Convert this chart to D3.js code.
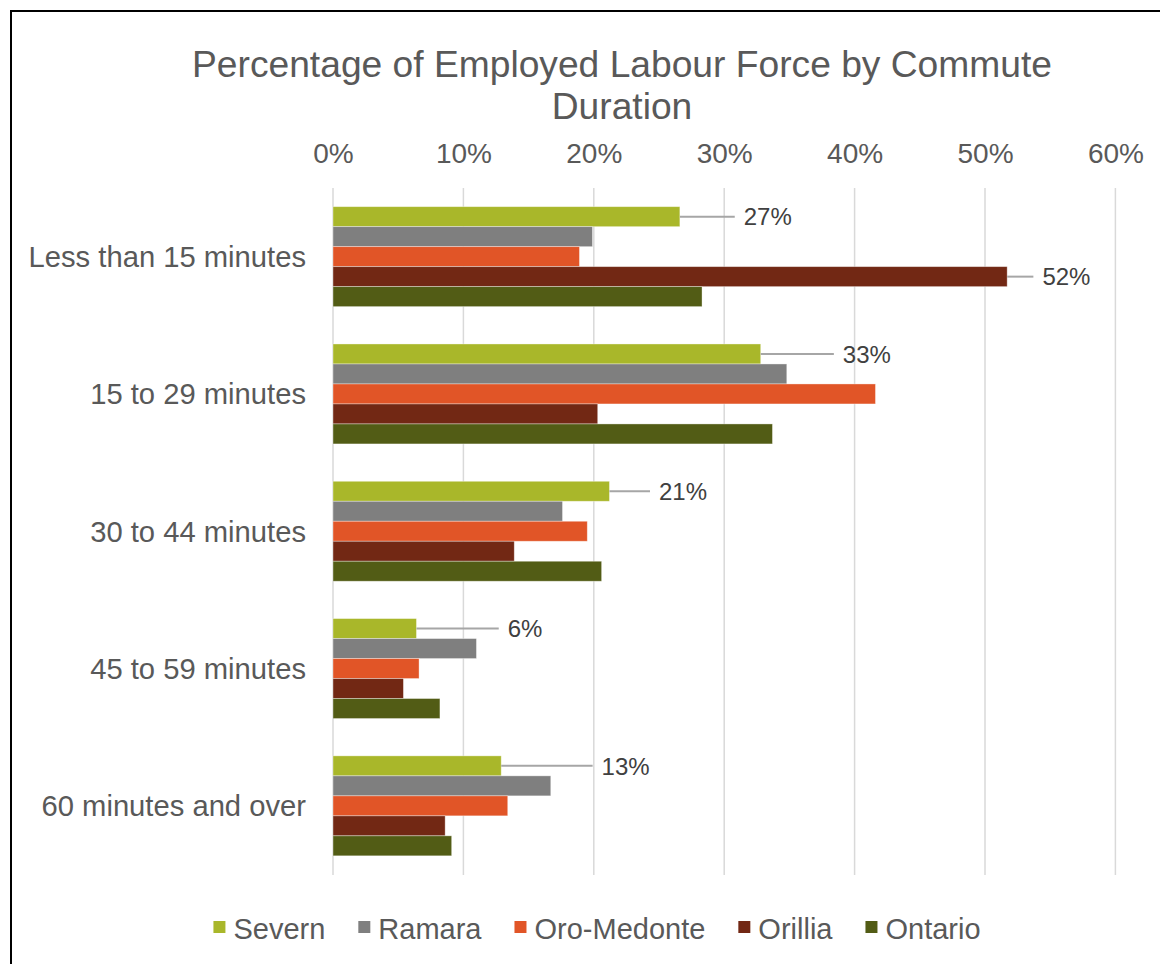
<!DOCTYPE html>
<html>
<head>
<meta charset="utf-8">
<script src="https://cdn.jsdelivr.net/npm/d3@7"></script>
<style>
  html, body { margin: 0; padding: 0; background: #fff; }
  svg { display: block; font-family: "Liberation Sans", Arial, sans-serif; }
</style>
</head>
<body>
<svg id="chart" width="1160" height="964"></svg>
<script>
// Commute duration categories (top to bottom)
const categories = [
  "Less than 15 minutes",
  "15 to 29 minutes",
  "30 to 44 minutes",
  "45 to 59 minutes",
  "60 minutes and over"
];

// Share of employed labour force, per area (fractions)
const severn     = [0.266, 0.328, 0.212, 0.064, 0.129];
const ramara     = [0.199, 0.348, 0.176, 0.110, 0.167];
const oroMedonte = [0.189, 0.416, 0.195, 0.066, 0.134];
const orillia    = [0.517, 0.203, 0.139, 0.054, 0.086];
const ontario    = [0.283, 0.337, 0.206, 0.082, 0.091];

const seriesNames = ["Severn", "Ramara", "Oro-Medonte", "Orillia", "Ontario"];
const seriesValues = [severn, ramara, oroMedonte, orillia, ontario];
const seriesColors = ["#A9B72A", "#7F7F7F", "#E15527", "#722814", "#525C15"];

const tickValues = [0, 0.1, 0.2, 0.3, 0.4, 0.5, 0.6];

// Data callouts: which series/category is labelled, and where the label text sits (in axis units)
const callouts = [
  { series: "Severn",  category: "Less than 15 minutes", at: 0.315 },
  { series: "Orillia", category: "Less than 15 minutes", at: 0.544 },
  { series: "Severn",  category: "15 to 29 minutes",     at: 0.391 },
  { series: "Severn",  category: "30 to 44 minutes",     at: 0.250 },
  { series: "Severn",  category: "45 to 59 minutes",     at: 0.134 },
  { series: "Severn",  category: "60 minutes and over",  at: 0.206 }
];

const svg = d3.select("#chart");
const textColor = "#595959";

// Outer frame
svg.append("rect")
  .attr("x", 11).attr("y", 11)
  .attr("width", 1300).attr("height", 1100)
  .attr("fill", "none").attr("stroke", "#000").attr("stroke-width", 2);

// Title
const title = svg.append("text")
  .attr("text-anchor", "middle")
  .attr("fill", textColor)
  .attr("font-size", 37.2);
title.append("tspan").attr("x", 622).attr("y", 77).text("Percentage of Employed Labour Force by Commute");
title.append("tspan").attr("x", 622).attr("y", 119).text("Duration");

// Scales
const x = d3.scaleLinear().domain([0, 0.6]).range([333, 1115.4]);
const y = d3.scaleBand().domain(categories).range([188, 874.5]).paddingInner(0.272).paddingOuter(0.136);
const ySub = d3.scaleBand().domain(seriesNames).range([0, y.bandwidth()]);

// Gridlines
svg.append("g")
  .selectAll("line")
  .data(tickValues)
  .join("line")
  .attr("x1", d => x(d)).attr("x2", d => x(d))
  .attr("y1", 188).attr("y2", 875)
  .attr("stroke", "#D9D9D9").attr("stroke-width", 1.5);

// Top axis tick labels
const xAxis = d3.axisTop(x).tickValues(tickValues).tickFormat(d3.format(".0%")).tickSize(0).tickPadding(0);
const gx = svg.append("g").attr("transform", "translate(0,163)").call(xAxis);
gx.select(".domain").remove();
gx.selectAll("text")
  .attr("font-family", "Liberation Sans, Arial, sans-serif")
  .attr("font-size", 28)
  .attr("fill", textColor)
  .attr("dy", 0);

// Category axis labels
const yAxis = d3.axisLeft(y).tickSize(0).tickPadding(0);
const gy = svg.append("g").attr("transform", "translate(306,0)").call(yAxis);
gy.select(".domain").remove();
gy.selectAll("text")
  .attr("font-family", "Liberation Sans, Arial, sans-serif")
  .attr("font-size", 29.2)
  .attr("fill", textColor)
  .attr("dy", "0.36em");

// Bars
const groups = svg.append("g")
  .selectAll("g")
  .data(categories)
  .join("g")
  .attr("transform", c => `translate(0,${y(c)})`);

groups.selectAll("rect")
  .data((c, ci) => seriesNames.map((s, si) => ({ series: s, value: seriesValues[si][ci], color: seriesColors[si] })))
  .join("rect")
  .attr("x", x(0))
  .attr("y", d => ySub(d.series))
  .attr("width", d => x(d.value) - x(0))
  .attr("height", ySub.bandwidth())
  .attr("fill", d => d.color)
  .attr("stroke", "#ffffff")
  .attr("stroke-opacity", 0.45)
  .attr("stroke-width", 0.8);

// Callout labels with leader lines
const fmt = d3.format(".0%");
const calloutG = svg.append("g");
callouts.forEach(c => {
  const si = seriesNames.indexOf(c.series);
  const ci = categories.indexOf(c.category);
  const v = seriesValues[si][ci];
  const cy = y(c.category) + ySub(c.series) + ySub.bandwidth() / 2;
  calloutG.append("line")
    .attr("x1", x(v)).attr("x2", x(c.at) - 9)
    .attr("y1", cy).attr("y2", cy)
    .attr("stroke", "#A6A6A6").attr("stroke-width", 2);
  calloutG.append("text")
    .attr("x", x(c.at)).attr("y", cy)
    .attr("dy", "0.36em")
    .attr("font-size", 24)
    .attr("fill", "#404040")
    .text(fmt(v));
});

// Legend
const legend = svg.append("g").attr("transform", "translate(0,939)");
const items = legend.selectAll("g")
  .data(seriesNames)
  .join("g");
items.append("rect")
  .attr("y", -18).attr("width", 12).attr("height", 12)
  .attr("fill", (d, i) => seriesColors[i]);
items.append("text")
  .attr("x", 20)
  .attr("font-size", 29)
  .attr("fill", textColor)
  .text(d => d);
let cursor = 0;
const offsets = [];
items.each(function () {
  const w = d3.select(this).select("text").node().getComputedTextLength();
  offsets.push(cursor);
  cursor += 20 + w + 33;
});
const total = cursor - 33;
const start = 597 - total / 2;
items.attr("transform", (d, i) => `translate(${start + offsets[i]},0)`);
</script>
</body>
</html>
